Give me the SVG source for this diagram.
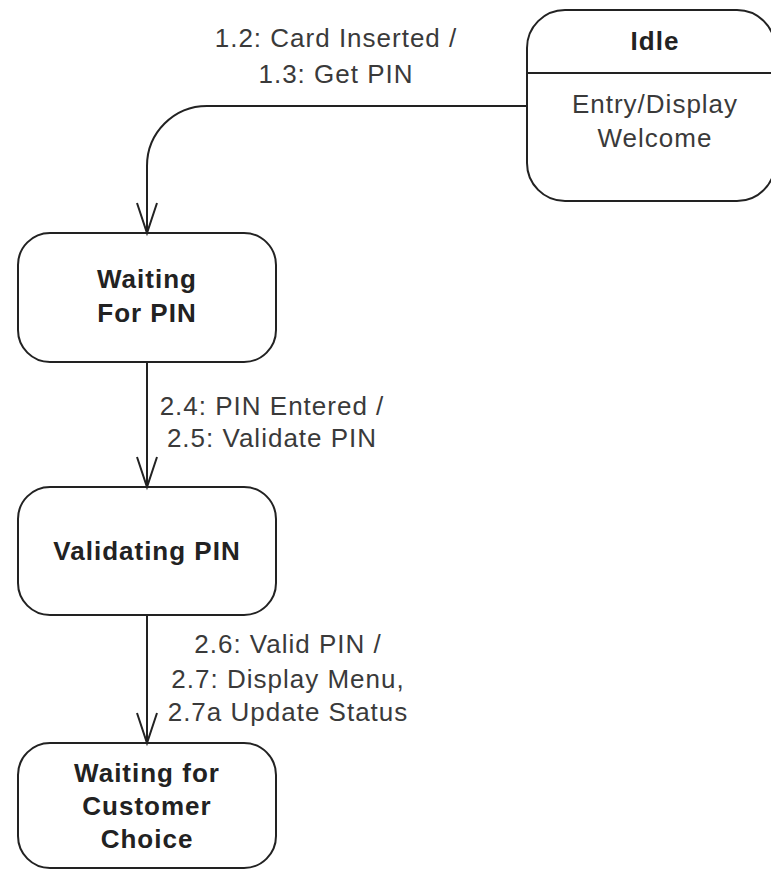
<svg xmlns="http://www.w3.org/2000/svg" width="771" height="870" viewBox="0 0 771 870">
<style>
.box{fill:#fff;stroke:#222;stroke-width:2}
.line{fill:none;stroke:#222;stroke-width:2}
.lbl{font-family:"Liberation Sans",Arial,sans-serif;font-size:26px;fill:#3a3a3a;text-anchor:middle;letter-spacing:1px}
.name{font-family:"Liberation Sans",Arial,sans-serif;font-size:26px;font-weight:bold;fill:#222;text-anchor:middle;letter-spacing:1px}
.act{font-family:"Liberation Sans",Arial,sans-serif;font-size:26px;fill:#3a3a3a;text-anchor:middle;letter-spacing:1px}
</style>
<defs>
<marker id="open" markerUnits="userSpaceOnUse" viewBox="-32 -12 34 24" markerWidth="34" markerHeight="24" refX="0" refY="0" orient="auto" overflow="visible">
<path d="M-30,-10 L0,0 L-30,10" fill="none" stroke="#222" stroke-width="2"/>
</marker>
</defs>
<rect width="771" height="870" fill="#fff"/>
<g id="idle">
<rect class="box" x="527" y="10" width="248" height="191" rx="38" ry="38"/>
<line class="line" x1="527" y1="73" x2="771" y2="73"/>
<text class="name" x="655" y="50">Idle</text>
<text class="act" x="655" y="113">Entry/Display</text>
<text class="act" x="655" y="147">Welcome</text>
</g>
<g id="waiting-for-pin">
<rect class="box" x="18" y="233" width="258" height="129" rx="32" ry="32"/>
<text class="name" x="147" y="288">Waiting</text>
<text class="name" x="147" y="322">For PIN</text>
</g>
<g id="validating-pin">
<rect class="box" x="18" y="487" width="258" height="128" rx="32" ry="32"/>
<text class="name" x="147" y="560">Validating PIN</text>
</g>
<g id="waiting-for-customer-choice">
<rect class="box" x="18" y="743" width="258" height="125" rx="32" ry="32"/>
<text class="name" x="147" y="782">Waiting for</text>
<text class="name" x="147" y="815">Customer</text>
<text class="name" x="147" y="848">Choice</text>
</g>
<g id="connectors">
<path class="line" d="M527,106 H207 A60,60 0 0 0 147,166 V233" marker-end="url(#open)"/>
<text class="lbl" x="336" y="47">1.2: Card Inserted /</text>
<text class="lbl" x="336" y="83">1.3: Get PIN</text>
<path class="line" d="M147,362 V487" marker-end="url(#open)"/>
<text class="lbl" x="272" y="415">2.4: PIN Entered /</text>
<text class="lbl" x="272" y="447">2.5: Validate PIN</text>
<path class="line" d="M147,615 V743" marker-end="url(#open)"/>
<text class="lbl" x="288" y="653">2.6: Valid PIN /</text>
<text class="lbl" x="288" y="688">2.7: Display Menu,</text>
<text class="lbl" x="288" y="721">2.7a Update Status</text>
</g>
</svg>
